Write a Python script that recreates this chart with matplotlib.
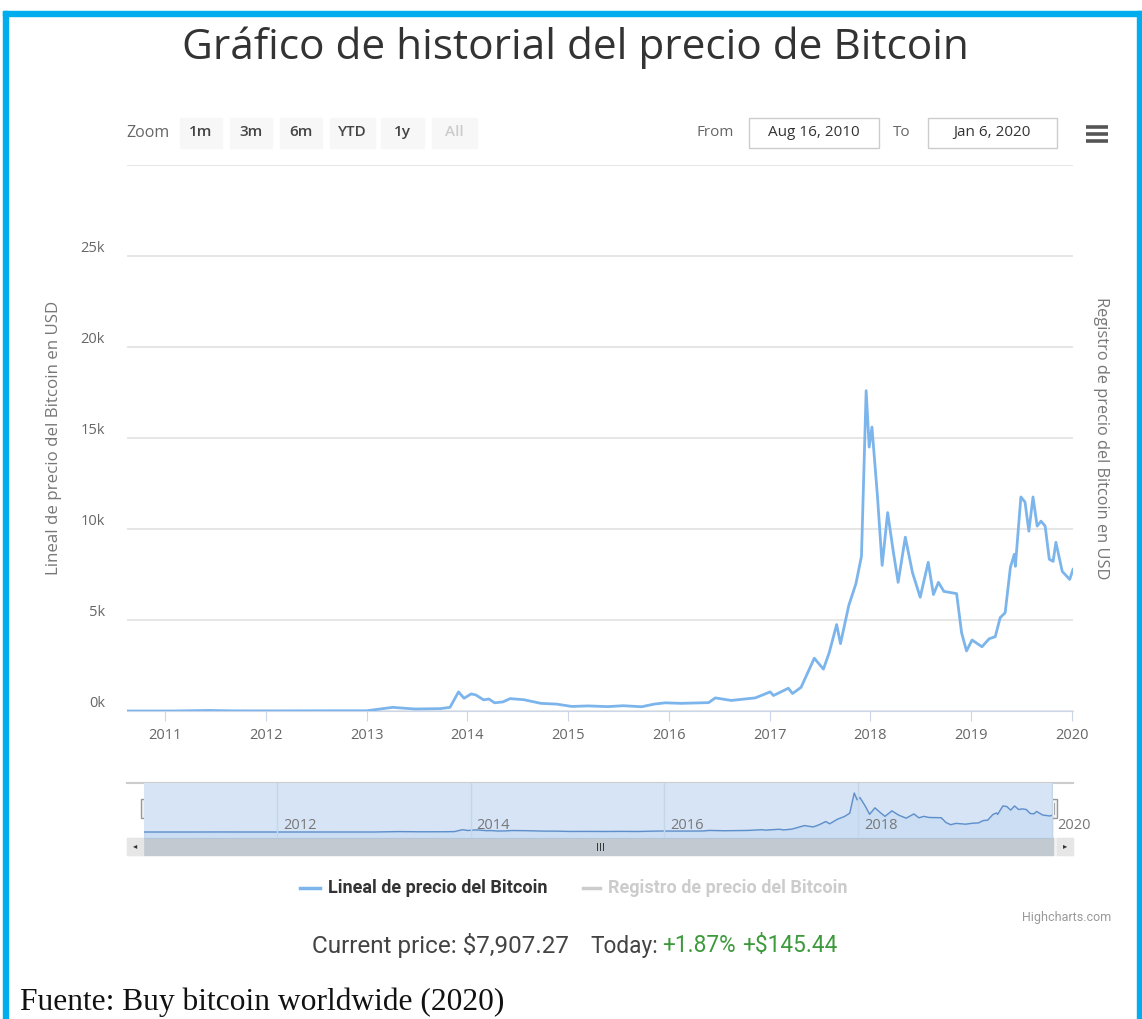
import matplotlib.pyplot as plt
from matplotlib.patches import Rectangle
import pandas as pd

plt.rcParams['font.family'] = ['Open Sans', 'DejaVu Sans']

W, H = 1142, 1019

# precio del bitcoin (USD)
fechas = ['2010-08-16', '2011-02-01', '2011-06-08', '2011-09-01', '2012-01-01', '2012-08-15',
          '2013-01-01', '2013-04-05', '2013-06-25', '2013-09-25', '2013-10-30', '2013-11-30',
          '2013-12-20', '2014-01-15', '2014-02-01', '2014-03-01', '2014-03-20', '2014-04-10',
          '2014-05-10', '2014-06-05', '2014-07-25', '2014-09-25', '2014-11-20', '2015-01-15',
          '2015-03-15', '2015-05-25', '2015-07-20', '2015-09-25', '2015-11-10', '2015-12-20',
          '2016-02-15', '2016-05-25', '2016-06-18', '2016-08-15', '2016-11-10', '2017-01-03',
          '2017-01-15', '2017-03-10', '2017-03-25', '2017-04-25', '2017-05-25', '2017-06-12',
          '2017-07-15', '2017-08-05', '2017-09-01', '2017-09-15', '2017-10-15', '2017-11-10',
          '2017-11-30', '2017-12-17', '2017-12-28', '2018-01-07', '2018-01-27', '2018-02-13',
          '2018-03-05', '2018-03-25', '2018-04-12', '2018-05-08', '2018-06-03', '2018-07-01',
          '2018-07-30', '2018-08-18', '2018-09-05', '2018-09-25', '2018-11-10', '2018-11-28',
          '2018-12-16', '2019-01-05', '2019-02-10', '2019-03-08', '2019-03-30', '2019-04-17',
          '2019-05-05', '2019-05-24', '2019-06-07', '2019-06-11', '2019-07-01', '2019-07-16',
          '2019-07-30', '2019-08-14', '2019-08-29', '2019-09-12', '2019-09-27', '2019-10-12',
          '2019-10-26', '2019-11-05', '2019-11-28', '2019-12-25', '2020-01-06']
precios = [0.07, 1, 30, 8, 5, 12,
           13, 200, 110, 130, 200, 1050,
           700, 940, 880, 610, 660, 450,
           500, 680, 620, 420, 380, 250,
           280, 240, 290, 235, 380, 450,
           420, 460, 720, 580, 720, 1050,
           850, 1250, 960, 1300, 2300, 2900,
           2300, 3200, 4750, 3700, 5800, 7000,
           8500, 17600, 14500, 15600, 11800, 8000,
           10900, 8800, 7070, 9550, 7600, 6250,
           8170, 6400, 7070, 6570, 6450, 4300,
           3300, 3900, 3530, 3970, 4080, 5130,
           5400, 7890, 8610, 7950, 11760, 11480,
           9880, 11760, 10160, 10430, 10160, 8340,
           8220, 9270, 7670, 7230, 7780]

anios = [2011, 2012, 2013, 2014, 2015, 2016, 2017, 2018, 2019, 2020]
anios_nav = [2012, 2014, 2016, 2018, 2020]
y_ticks = [0, 5000, 10000, 15000, 20000, 25000, 30000]
y_labels = ['0k', '5k', '10k', '15k', '20k', '25k', '']
botones = ['1m', '3m', '6m', 'YTD', '1y', 'All']

fechas = pd.to_datetime(fechas)
inicio, fin = pd.Timestamp('2010-08-16'), pd.Timestamp('2020-01-06')

fig = plt.figure(figsize=(W / 100, H / 100), dpi=100)


def ax_px(x0, y0, x1, y1):
    return fig.add_axes([x0 / W, 1 - y1 / H, (x1 - x0) / W, (y1 - y0) / H])


# fondo en pixeles para marco, botones y textos
bg = fig.add_axes([0, 0, 1, 1])
bg.set_xlim(0, W)
bg.set_ylim(H, 0)
bg.axis('off')

azul_marco = '#00aeef'
bg.add_patch(Rectangle((3, 11), 1139, 5, color=azul_marco))
bg.add_patch(Rectangle((3, 11), 5, H - 11, color=azul_marco))
bg.add_patch(Rectangle((1137, 11), 5, H - 11, color=azul_marco))

bg.text(575, 48, 'Gráfico de historial del precio de Bitcoin', ha='center', va='center',
        fontsize=30.5, color='#333333')

# barra de zoom
bg.text(126, 133, 'Zoom', va='center', fontsize=11.5, color='#666666')
bx = [180, 230, 280, 330, 381, 432]
bw = [42, 42, 42, 45, 43, 45]
for i, b in enumerate(botones):
    bg.add_patch(Rectangle((bx[i], 118), bw[i], 30, color='#f7f7f7'))
    bg.text(bx[i] + bw[i] / 2, 132, b, ha='center', va='center', fontsize=11,
            fontweight='semibold', color='#cccccc' if b == 'All' else '#444444')

bg.text(697, 132, 'From', va='center', fontsize=11, color='#666666')
bg.add_patch(Rectangle((749, 118), 130, 30, facecolor='white', edgecolor='#cccccc', lw=1))
bg.text(814, 132, 'Aug 16, 2010', ha='center', va='center', fontsize=11, color='#333333')
bg.text(893, 132, 'To', va='center', fontsize=11, color='#666666')
bg.add_patch(Rectangle((928, 118), 129, 30, facecolor='white', edgecolor='#cccccc', lw=1))
bg.text(992, 132, 'Jan 6, 2020', ha='center', va='center', fontsize=11, color='#333333')
for yy in [127, 134, 141]:
    bg.plot([1086, 1108], [yy, yy], color='#555555', lw=2.6, solid_capstyle='butt')

# grafico principal
ax = ax_px(127, 165, 1073, 711)
ax.set_facecolor('none')
ax.plot(fechas, precios, color='#7cb5ec', lw=2, zorder=3)
ax.set_xlim(inicio, fin)
ax.set_ylim(0, 30000)
ax.set_yticks(y_ticks)
ax.set_yticklabels(y_labels)
ax.grid(axis='y', color='#e6e6e6', lw=1.4)
ax.set_xticks([pd.Timestamp(f'{a}-01-01') for a in anios])
ax.set_xticklabels([str(a) for a in anios])
for s in ['top', 'left', 'right']:
    ax.spines[s].set_visible(False)
ax.spines['bottom'].set_color('#ccd6eb')
ax.tick_params(axis='x', length=7, color='#ccd6eb', labelcolor='#666666', labelsize=10.5, pad=5)
ax.tick_params(axis='y', length=0, labelcolor='#666666', labelsize=10.5, pad=16)
for lbl in ax.get_yticklabels():
    lbl.set_va('bottom')
ax.set_ylabel('Lineal de precio del Bitcoin en USD', fontsize=12.2, color='#777777', labelpad=13)
ax.text(1.021, 0.5, 'Registro de precio del Bitcoin en USD', transform=ax.transAxes,
        rotation=-90, ha='left', va='center', fontsize=11.8, color='#777777')

# navegador
nav = ax_px(144, 783, 1053, 838)
nav.set_facecolor('#d6e4f5')
nav.fill_between(fechas, precios, -2700, color='#7cb5ec', alpha=0.12)
nav.plot(fechas, precios, color='#5f8fca', lw=1)
nav.set_xlim(inicio, fin)
nav.set_ylim(-2700, 22100)
nav.set_xticks([])
nav.set_yticks([])
for s in nav.spines.values():
    s.set_visible(False)
for a in anios_nav:
    d = pd.Timestamp(f'{a}-01-01')
    nav.axvline(d, color='#c5d5ea', lw=1)
    nav.annotate(str(a), (d, 0.22), xycoords=('data', 'axes fraction'), xytext=(4, 0),
                 textcoords='offset points', va='center', fontsize=10.5, color='#777777',
                 annotation_clip=False)

bg.plot([127, 1073], [783, 783], color='#cccccc', lw=1.5)
for hx in [145, 1053]:
    bg.add_patch(Rectangle((hx - 4, 799), 8, 19, facecolor='#f2f2f2', edgecolor='#999999', lw=1, zorder=5))
    bg.plot([hx - 1, hx - 1], [803, 814], color='#999999', lw=0.6, zorder=6)
    bg.plot([hx + 1, hx + 1], [803, 814], color='#999999', lw=0.6, zorder=6)

# barra de desplazamiento
bg.add_patch(Rectangle((127, 838), 946, 17, color='#f2f2f2'))
bg.add_patch(Rectangle((143, 838), 910, 17, color='#c3c9d1'))
bg.add_patch(Rectangle((127, 838), 16, 17, color='#e6e6e6'))
bg.add_patch(Rectangle((1057, 838), 16, 17, color='#e6e6e6'))
bg.text(135, 847, '◂', ha='center', va='center', fontsize=6, color='#333333')
bg.text(1065, 847, '▸', ha='center', va='center', fontsize=6, color='#333333')
for gx in [597, 600, 603]:
    bg.plot([gx, gx], [843, 850], color='#333333', lw=0.7)

# leyenda
fuente_c = ['Roboto', 'DejaVu Sans']
bg.plot([300, 320], [888, 888], color='#7cb5ec', lw=2.5)
bg.text(328, 888, 'Lineal de precio del Bitcoin', va='center', fontsize=13,
        fontweight='bold', color='#333333', family=fuente_c)
bg.plot([583, 600], [888, 888], color='#cccccc', lw=2.5)
bg.text(608, 888, 'Registro de precio del Bitcoin', va='center', fontsize=13,
        fontweight='bold', color='#cccccc', family=fuente_c)
bg.text(1111, 918, 'Highcharts.com', ha='right', va='center', fontsize=9, color='#999999',
        family=fuente_c)

# precio actual
bg.text(312, 946, 'Current price: $7,907.27', va='center', fontsize=17.5, color='#444444',
        family=fuente_c)
bg.text(590, 946, 'Today:', va='center', fontsize=16.3, color='#444444', family=fuente_c)
bg.text(662, 946, '+1.87%', va='center', fontsize=16.3, color='#3c9a3c', family=fuente_c)
bg.text(742, 946, '+$145.44', va='center', fontsize=16.3, color='#3c9a3c', family=fuente_c)

bg.text(20, 1002, 'Fuente: Buy bitcoin worldwide (2020)', va='center', fontsize=22.7,
        color='#111111', family=['Liberation Serif', 'DejaVu Serif'])

fig.savefig('out.png', dpi=100)
